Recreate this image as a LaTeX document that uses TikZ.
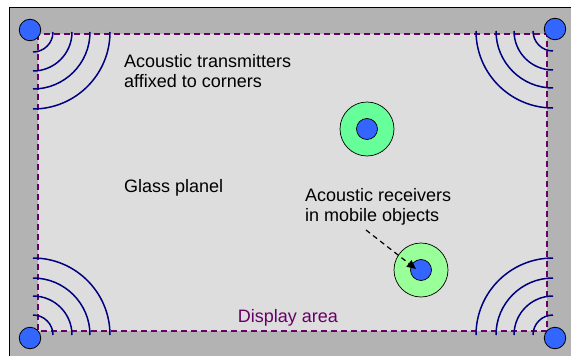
\documentclass[tikz,border=0pt]{standalone}
\usepackage{fontspec}
\setmainfont{Liberation Sans}
\usetikzlibrary{arrows.meta}
\definecolor{frame}{RGB}{179,179,179}
\definecolor{panel}{RGB}{221,221,221}
\definecolor{displine}{RGB}{102,0,102}
\definecolor{wavecol}{RGB}{0,0,128}
\definecolor{txblue}{RGB}{51,102,255}
\definecolor{greenA}{RGB}{102,255,153}
\definecolor{greenB}{RGB}{153,255,153}
\tikzset{
  wave/.style={draw=wavecol, line width=1.5pt},
  txdot/.style={circle, draw=black, line width=0.8pt, fill=txblue, minimum size=21.5pt, inner sep=0pt},
  rxouter/.style={circle, draw=black, line width=0.7pt, minimum size=54pt, inner sep=0pt},
  rxinner/.style={circle, draw=black, line width=0.7pt, fill=txblue, minimum size=21pt, inner sep=0pt},
  lbl/.style={font=\fontsize{18}{20.5}\selectfont, inner sep=0pt, align=left},
}
\begin{document}
\begin{tikzpicture}[x=1pt,y=-1pt]
\useasboundingbox (0,0) rectangle (571,356);
% frame and panel
\draw[fill=frame, draw=black, line width=0.8pt] (9,7) rectangle (580,366);
\fill[panel] (38,34) rectangle (547,331);
\draw[displine, line width=1.5pt, dash pattern=on 6pt off 4pt] (38,34) rectangle (547,331);
% acoustic waves
\foreach \r in {20,39,57,77} {
  \draw[wave] (33+\r,32) arc[start angle=0, end angle=90, radius=\r];
  \draw[wave] (553-\r,31) arc[start angle=180, end angle=90, radius=\r];
  \draw[wave] (33+\r,335) arc[start angle=0, end angle=-90, radius=\r];
  \draw[wave] (553-\r,335) arc[start angle=180, end angle=270, radius=\r];
}
% transmitters
\node[txdot] (tl) at (30,30) {};
\node[txdot] (tr) at (555,29) {};
\node[txdot] (bl) at (30,338) {};
\node[txdot] (br) at (555,338) {};
% receivers
\node[rxouter, fill=greenA] (rx1o) at (367,129) {};
\node[rxinner] (rx1) at (367,129) {};
\node[rxouter, fill=greenB] (rx2o) at (421,270) {};
\node[rxinner] (rx2) at (421,270) {};
% labels
\node[lbl, anchor=north west] (ttx) at (124,54) {Acoustic transmitters\\affixed to corners};
\node[lbl, anchor=base west] (glass) at (124,192) {Glass planel};
\node[lbl, anchor=north west] (trx) at (305,188) {Acoustic receivers\\in mobile objects};
\node[lbl, anchor=base, text=displine] (disp) at (288,322) {Display area};
% pointer
\coordinate (ptrstart) at (366,230);
\coordinate (ptrend) at (416,269);
\draw[black, line width=1.2pt, dash pattern=on 5pt off 4pt, -{Triangle[length=9pt,width=8pt]}] (ptrstart) -- (ptrend);
\end{tikzpicture}
\end{document}
